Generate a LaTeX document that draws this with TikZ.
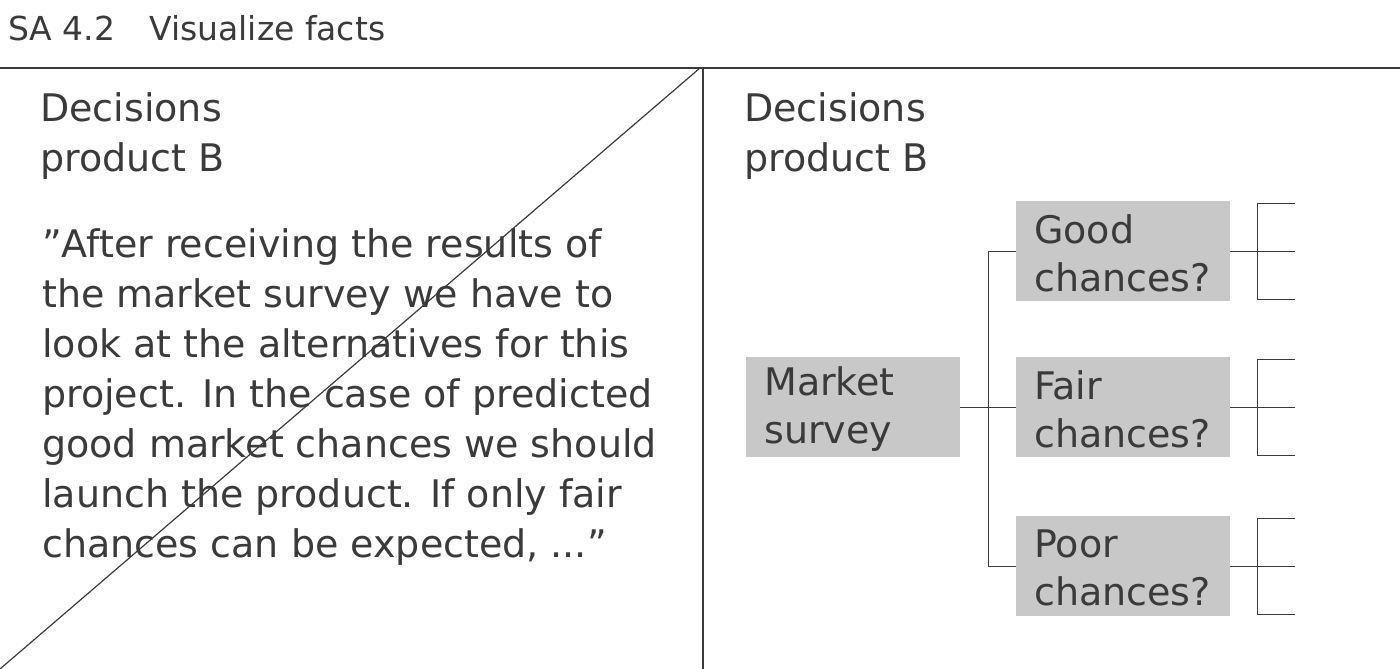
\documentclass[tikz,border=0pt]{standalone}
\usepackage{fontspec}
\setmainfont{DejaVu Sans}
\definecolor{txt}{HTML}{3A3A3A}
\definecolor{boxg}{HTML}{C8C8C8}
\begin{document}
\begin{tikzpicture}[x=1pt,y=-1pt,
  t/.style={anchor=west,inner sep=0pt,text=txt,font=\fontsize{38}{50}\selectfont,align=left},
  gbox/.style={fill=boxg,minimum width=214pt,minimum height=100pt,inner sep=0pt},
  ln/.style={draw=txt,line width=1.2pt},
  thin/.style={draw=txt,line width=0.8pt}]
\useasboundingbox (0,0) rectangle (1400,669);
\node[t,font=\fontsize{33}{40}\selectfont] (title) at (8,28) {SA 4.2\hspace{34pt}Visualize facts};
\coordinate (hl) at (0,68); \coordinate (hr) at (1400,68);
\coordinate (vt) at (703,68); \coordinate (vb) at (703,669);
\coordinate (dt) at (700,68); \coordinate (db) at (0,669);
\draw[ln] (hl) -- (hr); \draw[ln] (vt) -- (vb); \draw[ln] (dt) -- (db);
\node[t,anchor=north west] (d1) at (40,92) {Decisions\\product B};
\node[t,anchor=north west] (d2) at (744,92) {Decisions\\product B};
\node[t,anchor=north west] (para) at (42,228) {\char34After receiving the results of\\the market survey we have to\\look at the alternatives for this\\project. In the case of predicted\\good market chances we should\\launch the product. If only fair\\chances can be expected, ...\char34};
\node[gbox,minimum height=100pt] (ms) at (853,407) {};
\node[t,font=\fontsize{38}{48}\selectfont] at (764,409) {Market\\survey};
\foreach \n/\y/\a in {g/251/Good,f/407/Fair,p/566/Poor}{
  \node[gbox] (\n) at (1123,\y) {};
  \node[t,font=\fontsize{38}{48}\selectfont] at (1034,\y+2) {\a\\chances?};
  \coordinate (\n j) at (1257,\y);
  \coordinate (\n a) at (1257,\y-48); \coordinate (\n b) at (1257,\y+48);
  \coordinate (\n A) at (1295,\y-48); \coordinate (\n M) at (1295,\y); \coordinate (\n B) at (1295,\y+48);
  \draw[thin] (\n.east) -- (\n M);
  \draw[thin] (\n A) -- (\n a) -- (\n b) -- (\n B);
}
\coordinate (j) at (988,407);
\draw[thin] (ms.east) -- (j);
\draw[thin] (g.west) -| (j) |- (p.west);
\draw[thin] (j) -- (f.west);
\end{tikzpicture}
\end{document}
